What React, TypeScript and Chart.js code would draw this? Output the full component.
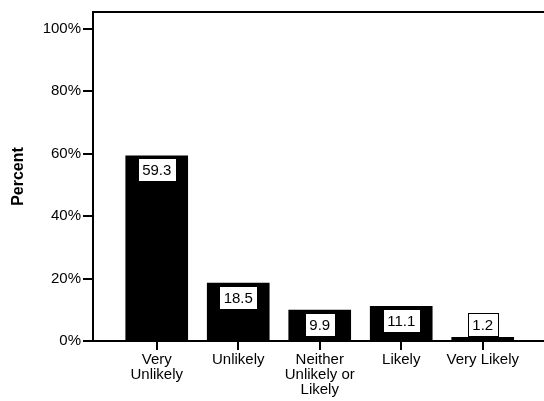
import React, { useEffect, useRef } from "react";
import { Chart, registerables } from "chart.js";

Chart.register(...registerables);

const categories: string[][] = [
  ["Very", "Unlikely"],
  ["Unlikely"],
  ["Neither", "Unlikely or", "Likely"],
  ["Likely"],
  ["Very Likely"],
];
const percents: number[] = [59.3, 18.5, 9.9, 11.1, 1.2];
const yTickValues: number[] = [0, 20, 40, 60, 80, 100];
const yAxisTitle = "Percent";

const FONT = "'Liberation Sans', Arial, sans-serif";

const labelBoxPlugin = {
  id: "labelBoxes",
  afterDatasetsDraw(chart: any) {
    const ctx = chart.ctx;
    const meta = chart.getDatasetMeta(0);
    ctx.save();
    ctx.font = `15px ${FONT}`;
    ctx.textAlign = "center";
    ctx.textBaseline = "middle";
    meta.data.forEach((bar: any, i: number) => {
      const text = percents[i].toFixed(1);
      const w = Math.round(ctx.measureText(text).width + 9);
      const h = 23;
      const x = bar.x;
      const top = bar.y;
      const base = bar.base;
      let boxTop: number;
      if (base - top >= h + 6) {
        boxTop = top + 2.5;
      } else {
        boxTop = top - h - 1;
      }
      const left = Math.round(x - w / 2) + 0.5;
      const bt = Math.round(boxTop) + 0.5;
      ctx.fillStyle = "#ffffff";
      ctx.fillRect(left, bt, w, h);
      ctx.strokeStyle = "#000000";
      ctx.lineWidth = 1;
      ctx.strokeRect(left, bt, w, h);
      ctx.fillStyle = "#000000";
      ctx.fillText(text, x, bt + h / 2 + 0.5);
    });
    ctx.restore();
  },
};

const topBorderPlugin = {
  id: "topBorder",
  afterDraw(chart: any) {
    const { ctx, chartArea } = chart;
    ctx.save();
    ctx.strokeStyle = "#000000";
    ctx.lineWidth = 2;
    ctx.beginPath();
    ctx.moveTo(chartArea.left - 1, chartArea.top);
    ctx.lineTo(chartArea.right + 2, chartArea.top);
    ctx.stroke();
    ctx.restore();
  },
};

export default function App() {
  const ref = useRef<HTMLCanvasElement | null>(null);

  useEffect(() => {
    if (!ref.current) return;
    const chart = new Chart(ref.current, {
      type: "bar",
      data: {
        datasets: [
          {
            data: percents.map((v, i) => ({ x: i, y: v })),
            backgroundColor: "#000000",
            borderWidth: 0,
            barThickness: 62,
          },
        ],
      },
      options: {
        responsive: false,
        animation: false,
        layout: { padding: { top: 12, right: 0, left: 0, bottom: 0 } },
        plugins: {
          legend: { display: false },
          tooltip: { enabled: false },
        },
        scales: {
          x: {
            type: "linear",
            offset: false,
            min: -0.782,
            max: 4.752,
            afterFit: (s: any) => {
              s.height = 60;
            },
            afterBuildTicks: (s: any) => {
              s.ticks = categories.map((_, i) => ({ value: i }));
            },
            grid: {
              display: true,
              offset: false,
              drawOnChartArea: false,
              drawTicks: true,
              tickLength: 9,
              lineWidth: 2,
              color: "#000000",
            },
            border: { display: true, width: 2, color: "#000000" },
            ticks: {
              autoSkip: false,
              maxRotation: 0,
              minRotation: 0,
              padding: 2,
              color: "#000000",
              font: { family: FONT, size: 15, lineHeight: 1.0 },
              callback: (v: any) => categories[Math.round(Number(v))] ?? "",
            },
          },
          y: {
            min: 0,
            max: 105.3,
            afterFit: (s: any) => {
              s.width = 93;
            },
            afterBuildTicks: (s: any) => {
              s.ticks = yTickValues.map((v) => ({ value: v }));
            },
            grid: {
              display: true,
              drawOnChartArea: false,
              drawTicks: true,
              tickLength: 10,
              lineWidth: 2,
              color: "#000000",
            },
            border: { display: true, width: 2, color: "#000000" },
            title: {
              display: true,
              text: yAxisTitle,
              color: "#000000",
              font: { family: FONT, size: 16, weight: "bold" },
              padding: { top: 9, bottom: 0 },
            },
            ticks: {
              padding: 2,
              color: "#000000",
              font: { family: FONT, size: 15 },
              callback: (v: any) => `${v}%`,
            },
          },
        },
      },
      plugins: [labelBoxPlugin, topBorderPlugin],
    });
    return () => chart.destroy();
  }, []);

  return (
    <div style={{ position: "fixed", left: 0, top: 0, width: 544, height: 401, background: "#fff" }}>
      <canvas ref={ref} width={544} height={401} style={{ display: "block" }} />
    </div>
  );
}
